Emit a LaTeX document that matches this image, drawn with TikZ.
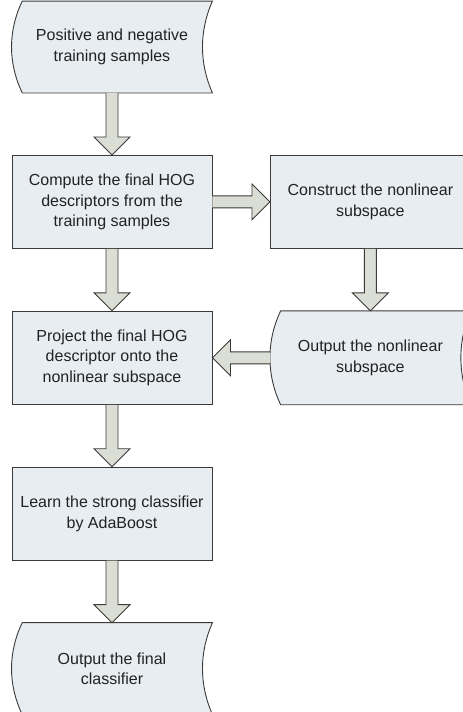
\documentclass[tikz,border=0pt]{standalone}
\usepackage{fontspec}
\setmainfont{Liberation Sans}
\usepackage{tikz}
\usetikzlibrary{positioning,calc}
\pgfdeclarelayer{background}
\pgfsetlayers{background,main}
\definecolor{boxfill}{HTML}{E8EDF1}
\definecolor{arrowfill}{HTML}{DBDED4}
\definecolor{edgegray}{HTML}{3A3A3A}
\definecolor{textgray}{HTML}{222222}
\tikzset{
  flowbox/.style={rectangle, draw=edgegray, fill=boxfill, line width=0.9pt, minimum width=200pt, minimum height=93pt,
                  inner sep=0pt, align=center, text=textgray, font=\fontsize{16}{20.5}\selectfont},
  storebox/.style={flowbox, draw=none, fill=none, minimum height=91pt},
  storeline/.style={draw=edgegray, fill=boxfill, line width=0.9pt},
  fatarrow/.style={draw=edgegray, fill=arrowfill, line width=0.9pt, line join=miter,
    to path={let \p1=(\tikztostart), \p2=(\tikztotarget),
      \n1={atan2(\y2-\y1,\x2-\x1)}, \n2={veclen(\x2-\x1,\y2-\y1)} in
      {[shift={(\p1)}, rotate=\n1]
        (0,6) -- (\n2-18,6) -- (\n2-18,18) -- (\n2,0)
        -- (\n2-18,-18) -- (\n2-18,-6) -- (0,-6)}}},
}
% outline of a "stored data" box, drawn behind the node
\newcommand{\storeoutline}[1]{%
  \begin{pgfonlayer}{background}
    \path[storeline] ([xshift=10.7pt]#1.north west)
      .. controls ([xshift=-3.6pt,yshift=-30pt]#1.north west) and ([xshift=-3.6pt,yshift=30pt]#1.south west)
      .. ([xshift=10.7pt]#1.south west) -- (#1.south east)
      .. controls ([xshift=-13.3pt,yshift=30pt]#1.south east) and ([xshift=-13.3pt,yshift=-30pt]#1.north east)
      .. (#1.north east) -- cycle;
  \end{pgfonlayer}}

\begin{document}
\begin{tikzpicture}[x=1pt, y=1pt]
  \path[use as bounding box, clip] (0,0) rectangle (463,-712);

  \node[storebox] (samples) at (112,-47) {Positive and negative\\training samples};
  \node[flowbox, below=62pt of samples] (compute) {Compute the final HOG\\descriptors from the\\training samples};
  \node[flowbox, right=57.5pt of compute] (construct) {Construct the nonlinear\\subspace};
  \node[storebox, below=62pt of construct, minimum height=93pt] (nlspace) {Output the nonlinear\\subspace};
  \node[flowbox, below=62pt of compute] (project) {Project the final HOG\\descriptor onto the\\nonlinear subspace};
  \node[flowbox, below=62pt of project] (learn) {Learn the strong classifier\\by AdaBoost};
  \node[storebox, below=62pt of learn] (final) {Output the final\\classifier};

  \storeoutline{samples}
  \storeoutline{nlspace}
  \storeoutline{final}

  \draw[fatarrow] (samples.south) to (compute.north);
  \draw[fatarrow] (compute.east) to (construct.west);
  \draw[fatarrow] (construct.south) to (nlspace.north);
  \draw[fatarrow] (compute.south) to (project.north);
  \draw[fatarrow] (nlspace.west) to (project.east);
  \draw[fatarrow] (project.south) to (learn.north);
  \draw[fatarrow] (learn.south) to (final.north);
\end{tikzpicture}
\end{document}
